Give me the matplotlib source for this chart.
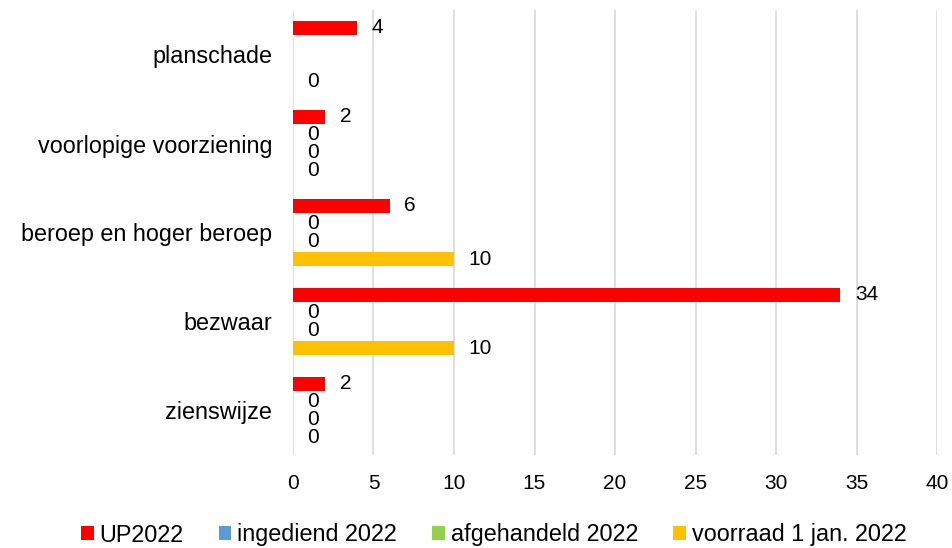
import numpy as np
import matplotlib
matplotlib.use("Agg")
import matplotlib.pyplot as plt
from matplotlib.patches import Patch

categories = ["planschade", "voorlopige voorziening", "beroep en hoger beroep", "bezwaar", "zienswijze"]
series_names = ["UP2022", "ingediend 2022", "afgehandeld 2022", "voorraad 1 jan. 2022"]
up2022 = [4, 2, 6, 34, 2]
ingediend = [np.nan, 0, 0, 0, 0]
afgehandeld = [np.nan, 0, 0, 0, 0]
voorraad = [0, 0, 10, 10, 0]
colors = ["#FF0000", "#5B9BD5", "#92D050", "#FFC000"]
xticks = [0, 5, 10, 15, 20, 25, 30, 35, 40]

plt.rcParams['font.family'] = ['Liberation Sans', 'DejaVu Sans']

fig = plt.figure(figsize=(9.53, 5.48), dpi=100)
ax = fig.add_axes([293/953, 1-455/548, (937-293)/953, (455-10)/548])

all_series = [up2022, ingediend, afgehandeld, voorraad]
y = np.arange(len(categories))
step = 0.2
height = 0.16
for k, (vals, col) in enumerate(zip(all_series, colors)):
    pos = y + (k - 1.5) * step
    v = np.array(vals, dtype=float)
    ax.barh(pos, np.nan_to_num(v), height=height, color=col, zorder=3)
    for p, val in zip(pos, v):
        if not np.isnan(val):
            ax.annotate(f"{int(val)}", (val, p), xytext=(10.5, 0), textcoords="offset points",
                        va="center", ha="left", fontsize=15, color="#000000", zorder=4)

ax.set_xlim(0, 40)
ax.set_ylim(4.5, -0.5)
ax.set_xticks(xticks)
ax.set_xticklabels([str(t) for t in xticks], fontsize=15)
ax.set_yticks(y)
ax.set_yticklabels(categories, fontsize=16.8)
ax.tick_params(axis="both", length=0)
ax.tick_params(axis="y", pad=15)
ax.tick_params(axis="x", pad=13.5)
ax.grid(axis="x", color="#D9D9D9", linewidth=1.2, zorder=0)
for s in ax.spines.values():
    s.set_visible(False)

handles = [Patch(facecolor=c, edgecolor='none') for c in colors]
fig.legend(handles, series_names, loc="center", bbox_to_anchor=(0.518, 1-535/548), ncol=4,
           frameon=False, fontsize=16.8, handlelength=0.55, handleheight=0.55, handletextpad=0.25,
           columnspacing=1.5, borderpad=0, borderaxespad=0)

fig.savefig("out.png", dpi=100)
